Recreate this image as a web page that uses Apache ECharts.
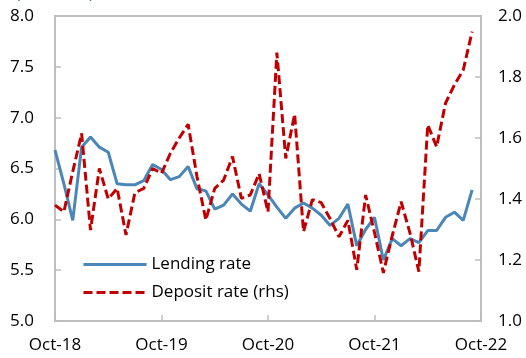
<!DOCTYPE html>
<html>
<head>
<meta charset="utf-8">
<script src="https://cdn.jsdelivr.net/npm/echarts@6/dist/echarts.min.js"></script>
<style>
html,body{margin:0;padding:0;background:#fff;}
#chart{width:526px;height:358px;}
</style>
</head>
<body>
<div id="chart"></div>
<script>
// Monthly categories Oct-18 .. Oct-22
var monthNames = ['Jan','Feb','Mar','Apr','May','Jun','Jul','Aug','Sep','Oct','Nov','Dec'];
var startYear = 2018, startMonth = 9, nMonths = 49;
var categories = [];
for (var k = 0; k < nMonths; k++) {
  var m = (startMonth + k) % 12;
  var y = startYear + Math.floor((startMonth + k) / 12);
  categories.push(monthNames[m] + '-' + String(y).slice(2));
}

var lendingRate = [
  6.68, 6.35, 5.99, 6.71, 6.81, 6.71, 6.66, 6.35, 6.34, 6.34, 6.38,
  6.54, 6.49, 6.39, 6.42, 6.52, 6.30, 6.28, 6.10, 6.14, 6.25,
  6.15, 6.08, 6.35, 6.24, 6.12, 6.01, 6.11, 6.16, 6.11, 6.04,
  5.94, 6.01, 6.15, 5.74, 5.90, 6.02, 5.60, 5.81, 5.74, 5.81,
  5.77, 5.89, 5.89, 6.02, 6.07, 5.99, 6.29
];
var depositRate = [
  1.380, 1.358, 1.490, 1.615, 1.298, 1.500, 1.400, 1.435, 1.282, 1.420, 1.435,
  1.500, 1.484, 1.550, 1.600, 1.645, 1.473, 1.331, 1.435, 1.462, 1.539,
  1.402, 1.413, 1.483, 1.358, 1.880, 1.533, 1.678, 1.293, 1.398, 1.388,
  1.335, 1.276, 1.330, 1.168, 1.413, 1.290, 1.158, 1.280, 1.391, 1.288,
  1.162, 1.643, 1.571, 1.714, 1.774, 1.823, 1.949
];
var seriesNames = ['Lending rate', 'Deposit rate (rhs)'];
var unitLabel = '(Percent)';

var font = "'Open Sans', 'Noto Sans', sans-serif";
var axisGrey = '#bfbfbf';
var blue = '#4a86b8', red = '#c00000';
var chart = echarts.init(document.getElementById('chart'), null, {renderer: 'canvas'});
chart.setOption({
  animation: false,
  backgroundColor: '#ffffff',
  textStyle: {fontFamily: font},
  graphic: [{
    type: 'text', left: 15, top: -17,
    style: {text: unitLabel, fontSize: 19, fontFamily: font, fill: blue}
  }],
  grid: {left: 55, right: 45, top: 16, bottom: 37, show: true, borderColor: axisGrey, borderWidth: 2, containLabel: false},
  legend: {
    orient: 'vertical', left: 77, top: 251, itemWidth: 63, itemHeight: 18, itemGap: 11,
    itemStyle: {opacity: 0, borderWidth: 0},
    textStyle: {fontSize: 17, color: '#000', fontFamily: font},
    data: [
      {name: seriesNames[0], lineStyle: {width: 3, color: blue}},
      {name: seriesNames[1], lineStyle: {width: 3, color: red, type: [9, 4]}}
    ]
  },
  xAxis: {
    type: 'category', data: categories, boundaryGap: false,
    axisLine: {lineStyle: {color: axisGrey, width: 2}},
    axisTick: {inside: true, interval: 11, length: 6, lineStyle: {color: axisGrey, width: 1.5}},
    axisLabel: {interval: 11, fontSize: 17, color: '#000', margin: 16, fontFamily: font},
    splitLine: {show: false}
  },
  yAxis: [{
    type: 'value', min: 5, max: 8, interval: 0.5,
    axisLine: {show: true, lineStyle: {color: axisGrey, width: 2}},
    axisTick: {show: true, inside: true, length: 6, lineStyle: {color: axisGrey, width: 1.5}},
    axisLabel: {fontSize: 17, color: '#000', margin: 21, fontFamily: font, formatter: function(v){return v.toFixed(1);}},
    splitLine: {show: false}
  }, {
    type: 'value', min: 1, max: 2, interval: 0.2,
    axisLine: {show: true, lineStyle: {color: axisGrey, width: 2}},
    axisTick: {show: true, inside: true, length: 6, lineStyle: {color: axisGrey, width: 1.5}},
    axisLabel: {fontSize: 17, color: '#000', margin: 17, fontFamily: font, formatter: function(v){return v.toFixed(1);}},
    splitLine: {show: false}
  }],
  series: [{
    name: seriesNames[0], type: 'line', yAxisIndex: 0, data: lendingRate,
    symbol: 'none', lineStyle: {color: blue, width: 3}, itemStyle: {color: blue}
  }, {
    name: seriesNames[1], type: 'line', yAxisIndex: 1, data: depositRate,
    symbol: 'none', lineStyle: {color: red, width: 3, type: [9, 4]}, itemStyle: {color: red}
  }]
});
</script>
</body>
</html>
